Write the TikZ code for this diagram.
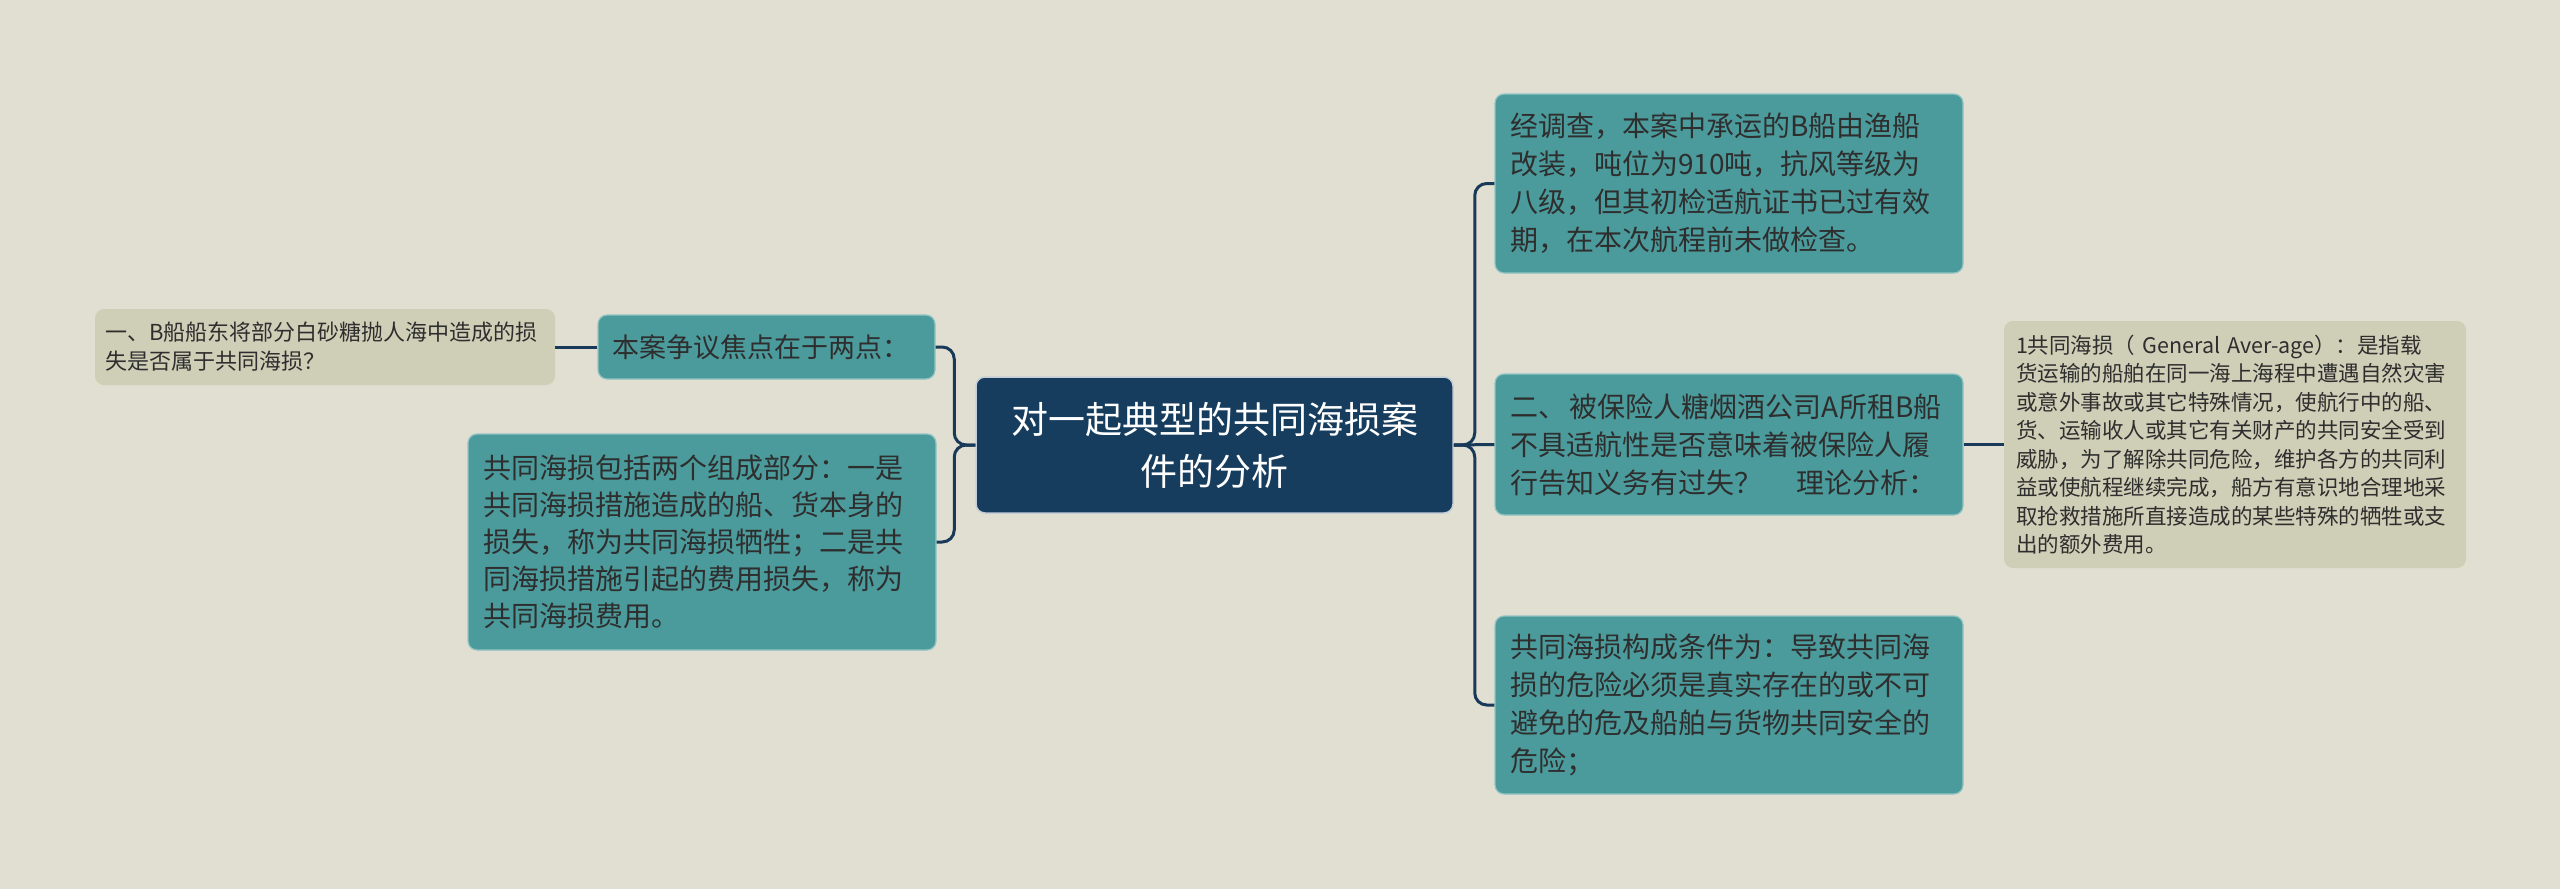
\documentclass[tikz,border=0pt]{standalone}
\usepackage{fontspec}
\setmainfont{Noto Sans CJK SC}
\definecolor{bgc}{HTML}{E0DFD1}
\definecolor{navy}{HTML}{173D5E}
\definecolor{tealc}{HTML}{4C9B9C}
\definecolor{beigec}{HTML}{CFCEB7}
\definecolor{txt}{HTML}{2E2E2E}
\definecolor{conn}{HTML}{183A58}
\tikzset{
  box/.style={rounded corners=9pt, inner ysep=0pt, anchor=center, align=left, text=txt},
  tealbox/.style={box, fill=tealc, draw=tealc!60!white, line width=1.2pt, inner xsep=15pt,
     font=\fontsize{28pt}{38pt}\selectfont},
  beigebox/.style={box, fill=beigec, draw=none},
  centerbox/.style={box, fill=navy, draw=white!75!navy, line width=1.5pt, text=white, align=center,
     font=\fontsize{37pt}{52pt}\selectfont},
  link/.style={draw=conn, line width=3pt, rounded corners=12pt},
}
\begin{document}
\begin{tikzpicture}[x=1pt,y=-1pt]
\useasboundingbox[fill=bgc] (0,0) rectangle (2560,889);

\node[centerbox, minimum width=477pt, minimum height=136pt] (c) at (1214.5,445)
  {对一起典型的共同海损案\\件的分析};

\node[tealbox, text width=309pt, inner xsep=14pt, minimum height=64pt,
  font=\fontsize{27pt}{36pt}\selectfont] (l1) at (766.5,347) {本案争议焦点在于两点：};

\node[beigebox, text width=440pt, inner xsep=10pt, minimum height=76pt,
  font=\fontsize{22pt}{29pt}\selectfont] (ll) at (325,347)
  {一、B船船东将部分白砂糖抛人海中造成的损\\失是否属于共同海损？};

\node[tealbox, text width=438pt, minimum height=216pt, font=\fontsize{28pt}{37pt}\selectfont] (l2) at (702,542)
  {共同海损包括两个组成部分：一是\\共同海损措施造成的船、货本身的\\损失，称为共同海损牺牲；二是共\\同海损措施引起的费用损失，称为\\共同海损费用。};

\node[tealbox, text width=438pt, minimum height=179pt] (r1) at (1729,183.5)
  {经调查，本案中承运的B船由渔船\\改装，吨位为910吨，抗风等级为\\八级，但其初检适航证书已过有效\\期，在本次航程前未做检查。};

\node[tealbox, text width=438pt, minimum height=141pt] (r2) at (1729,444.5)
  {二、\hspace{4pt}被保险人糖烟酒公司A所租B船\\不具适航性是否意味着被保险人履\\行告知义务有过失？\hspace{34pt}理论分析：};

\node[tealbox, text width=438pt, minimum height=178pt] (r3) at (1729,705)
  {共同海损构成条件为：导致共同海\\损的危险必须是真实存在的或不可\\避免的危及船舶与货物共同安全的\\危险；};

\node[beigebox, text width=438pt, inner xsep=12pt, minimum height=247pt,
  font=\fontsize{21.5pt}{28.5pt}\selectfont] (rr) at (2235,444.5)
  {1共同海损（ General Aver-age）：是指载\\货运输的船舶在同一海上海程中遭遇自然灾害\\或意外事故或其它特殊情况，使航行中的船、\\货、运输收人或其它有关财产的共同安全受到\\威胁，为了解除共同危险，维护各方的共同利\\益或使航程继续完成，船方有意识地合理地采\\取抢救措施所直接造成的某些特殊的牺牲或支\\出的额外费用。};

\path[link] (c.west) -- ++(-21,0) |- (l1.east);
\path[link] (c.west) -- ++(-21,0) |- (l2.east);
\path[link] (l1.west) -- (ll.east);
\path[link] (c.east) -- ++(21,0) |- (r1.west);
\path[link] (c.east) -- (r2.west);
\path[link] (c.east) -- ++(21,0) |- (r3.west);
\path[link] (r2.east) -- (rr.west);
\end{tikzpicture}
\end{document}
